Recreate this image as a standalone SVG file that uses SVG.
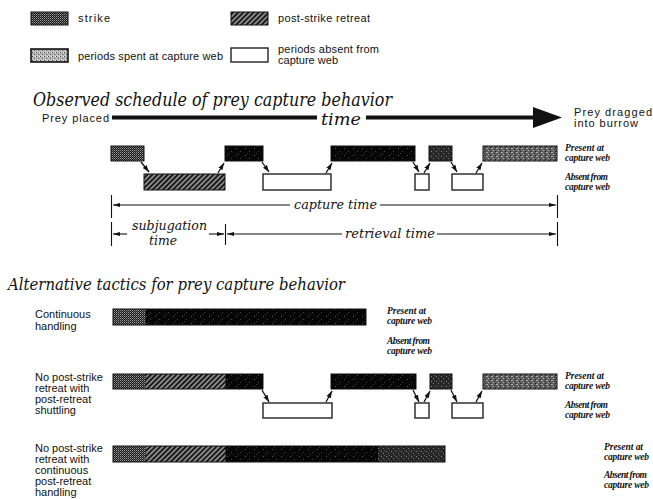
<svg xmlns="http://www.w3.org/2000/svg" width="653" height="499" viewBox="0 0 653 499">
<style>
.sans{font-family:"Liberation Sans",Arial,sans-serif;font-size:11px;fill:#111}
.ttl{font-family:"DejaVu Serif","Liberation Serif",serif;font-style:italic;fill:#111}
.lab{font-family:"Liberation Serif","Times New Roman",serif;font-style:italic;font-weight:bold;font-size:9.5px;fill:#111}
.dim{font-family:"DejaVu Serif","Liberation Serif",serif;font-style:italic;font-size:12.5px;fill:#111}
.bx{stroke:#111;stroke-width:1}
.wb{fill:#fff;stroke:#222;stroke-width:1.4}
.conn{stroke:#111;stroke-width:1.3;fill:none}
.dl{stroke:#111;stroke-width:1.1;fill:none}
</style>
<defs>
<pattern id="pStrike" width="2" height="2" patternUnits="userSpaceOnUse">
<rect width="2" height="2" fill="#1e1e1e"/><rect width="1" height="1" fill="#9a9a9a"/><rect x="1" y="1" width="1" height="1" fill="#5a5a5a"/>
</pattern>
<pattern id="pHatch" width="3.6" height="3.6" patternUnits="userSpaceOnUse" patternTransform="rotate(45)">
<rect width="3.6" height="3.6" fill="#8a8a8a"/><rect width="1.7" height="3.6" fill="#111"/>
</pattern>
<pattern id="pDark" width="9" height="7" patternUnits="userSpaceOnUse">
<rect width="9" height="7" fill="#060606"/><rect x="2" y="1" width="1" height="1" fill="#555"/><rect x="6" y="4" width="1" height="1" fill="#444"/><rect x="4" y="6" width="1" height="1" fill="#3a3a3a"/>
</pattern>
<pattern id="pMid" width="5" height="5" patternUnits="userSpaceOnUse">
<rect width="5" height="5" fill="#262626"/><rect x="1" y="1" width="1" height="1" fill="#888"/><rect x="3" y="3" width="1" height="1" fill="#777"/><rect x="4" y="0" width="1" height="1" fill="#555"/>
</pattern>
<pattern id="pLight" width="5" height="4" patternUnits="userSpaceOnUse">
<rect width="5" height="4" fill="#5e5e5e"/><rect x="1" y="0" width="2" height="1" fill="#aaa"/><rect x="3" y="2" width="1" height="1" fill="#bbb"/><rect x="0" y="3" width="1" height="1" fill="#222"/><rect x="4" y="1" width="1" height="1" fill="#333"/>
</pattern>
<pattern id="pLegWeb" width="4" height="4" patternUnits="userSpaceOnUse">
<rect width="4" height="4" fill="#b4b4b4"/><rect x="0" y="0" width="1" height="1" fill="#555"/><rect x="2" y="2" width="1" height="1" fill="#666"/><rect x="3" y="0" width="1" height="1" fill="#eee"/><rect x="1" y="3" width="1" height="1" fill="#eee"/>
</pattern>
<marker id="ah" markerUnits="userSpaceOnUse" markerWidth="8" markerHeight="6" refX="7" refY="3" orient="auto">
<path d="M0,0.6 L7,3 L0,5.4 z" fill="#111"/>
</marker>
<marker id="dh" markerUnits="userSpaceOnUse" markerWidth="8" markerHeight="5" refX="7" refY="2.5" orient="auto">
<path d="M0,0.5 L7,2.5 L0,4.5 z" fill="#111"/>
</marker>
</defs>

<g id="legend">
<g id="leg-strike"><rect class="bx" x="31" y="12" width="37" height="13" fill="url(#pStrike)"/><text class="sans" x="78" y="22" textLength="32">strike</text></g>
<g id="leg-retreat"><rect class="bx" x="231" y="12" width="37" height="13" fill="url(#pHatch)"/><text class="sans" x="278" y="22" textLength="92">post-strike retreat</text></g>
<g id="leg-web"><rect x="31" y="49" width="37" height="13" fill="url(#pLegWeb)" stroke="#111" stroke-width="1.6"/><text class="sans" x="78" y="60" textLength="145">periods spent at capture web</text></g>
<g id="leg-absent"><rect class="wb" x="231" y="48" width="37" height="14"/><text class="sans" x="278" y="53" textLength="101">periods absent from</text><text class="sans" x="278" y="64" textLength="60">capture web</text></g>
</g>

<g id="observed-title"><text class="ttl" x="33" y="106" font-size="19" textLength="359" lengthAdjust="spacingAndGlyphs">Observed schedule of prey capture behavior</text></g>

<g id="time-axis">
<text class="sans" x="42" y="122" font-size="12" textLength="67">Prey placed</text>
<rect x="112" y="115.5" width="205" height="4" fill="#111"/>
<text class="ttl" x="321" y="125" font-size="17" textLength="40" lengthAdjust="spacingAndGlyphs">time</text>
<rect x="366" y="115.5" width="169" height="4" fill="#111"/>
<polygon points="533,107 562,117.5 533,128" fill="#111"/>
<text class="sans" x="574" y="116" font-size="12" textLength="78">Prey dragged</text>
<text class="sans" x="574" y="127" font-size="12" textLength="64">into burrow</text>
</g>

<g id="observed-bars">
<rect class="bx" x="111" y="146" width="33" height="15" fill="url(#pStrike)"/>
<rect class="bx" x="144" y="174" width="81" height="16" fill="url(#pHatch)"/>
<rect class="bx" x="225" y="146" width="38" height="15" fill="url(#pDark)"/>
<rect class="wb" x="263" y="174" width="68" height="16"/>
<rect class="bx" x="331" y="146" width="84" height="15" fill="url(#pDark)"/>
<rect class="wb" x="415" y="174" width="14" height="16"/>
<rect class="bx" x="429" y="146" width="23" height="15" fill="url(#pMid)"/>
<rect class="wb" x="452" y="174" width="31" height="16"/>
<rect class="bx" x="483" y="146" width="74" height="15" fill="url(#pLight)"/>
<text class="lab" x="565" y="151" textLength="39">Present at</text>
<text class="lab" x="565" y="161" textLength="45">capture web</text>
<text class="lab" x="565" y="180" textLength="43">Absent from</text>
<text class="lab" x="565" y="190" textLength="45">capture web</text>
</g>

<g id="dimensions">
<path class="dl" d="M111.5,195 V218 M111.5,222 V246 M557.5,195 V218 M557.5,222 V246 M225.5,224 V245"/>
<path class="dl" d="M290,205 H113" marker-end="url(#dh)"/>
<path class="dl" d="M380,205 H556" marker-end="url(#dh)"/>
<text class="dim" x="294" y="209" textLength="83" lengthAdjust="spacingAndGlyphs">capture time</text>
<path class="dl" d="M127,234 H113" marker-end="url(#dh)"/>
<path class="dl" d="M209,234 H224" marker-end="url(#dh)"/>
<text class="dim" x="132" y="230" textLength="75" lengthAdjust="spacingAndGlyphs">subjugation</text>
<text class="dim" x="149" y="245" textLength="28" lengthAdjust="spacingAndGlyphs">time</text>
<path class="dl" d="M342,234 H227" marker-end="url(#dh)"/>
<path class="dl" d="M437,234 H556" marker-end="url(#dh)"/>
<text class="dim" x="345" y="238" textLength="90" lengthAdjust="spacingAndGlyphs">retrieval time</text>
</g>

<g id="alt-title"><text class="ttl" x="8" y="290" font-size="17" textLength="337" lengthAdjust="spacingAndGlyphs">Alternative tactics for prey capture behavior</text></g>

<g id="alt-continuous">
<text class="sans" x="35" y="318">Continuous</text>
<text class="sans" x="35" y="330">handling</text>
<rect class="bx" x="113" y="309" width="253" height="16" fill="url(#pDark)"/>
<rect x="113.5" y="309.5" width="32" height="15" fill="url(#pStrike)"/>
<text class="lab" x="387" y="314" textLength="39">Present at</text>
<text class="lab" x="387" y="324" textLength="45">capture web</text>
<text class="lab" x="387" y="344" textLength="43">Absent from</text>
<text class="lab" x="387" y="354" textLength="45">capture web</text>
</g>

<g id="alt-shuttling">
<text class="sans" x="35" y="381">No post-strike</text>
<text class="sans" x="35" y="392">retreat with</text>
<text class="sans" x="35" y="403">post-retreat</text>
<text class="sans" x="35" y="414">shuttling</text>
<rect class="bx" x="113" y="374" width="150" height="15" fill="url(#pDark)"/>
<rect x="113.5" y="374.5" width="32" height="14" fill="url(#pStrike)"/>
<rect x="145.5" y="374.5" width="80" height="14" fill="url(#pHatch)"/>
<rect class="wb" x="263" y="403" width="69" height="15"/>
<rect class="bx" x="331" y="374" width="85" height="15" fill="url(#pDark)"/>
<rect class="wb" x="415" y="403" width="14" height="15"/>
<rect class="bx" x="430" y="374" width="22" height="15" fill="url(#pMid)"/>
<rect class="wb" x="452" y="403" width="31" height="15"/>
<rect class="bx" x="483" y="374" width="74" height="15" fill="url(#pLight)"/>
<text class="lab" x="565" y="379" textLength="39">Present at</text>
<text class="lab" x="565" y="389" textLength="45">capture web</text>
<text class="lab" x="565" y="408" textLength="43">Absent from</text>
<text class="lab" x="565" y="418" textLength="45">capture web</text>
</g>

<g id="alt-continuous-post">
<text class="sans" x="35" y="452">No post-strike</text>
<text class="sans" x="35" y="463">retreat with</text>
<text class="sans" x="35" y="474">continuous</text>
<text class="sans" x="35" y="485">post-retreat</text>
<text class="sans" x="35" y="496">handling</text>
<rect class="bx" x="113" y="446" width="332" height="16" fill="url(#pDark)"/>
<rect x="113.5" y="446.5" width="32" height="15" fill="url(#pStrike)"/>
<rect x="145.5" y="446.5" width="80" height="15" fill="url(#pHatch)"/>
<rect x="378" y="446.5" width="66.5" height="15" fill="url(#pMid)"/>
<text class="lab" x="604" y="450" textLength="39">Present at</text>
<text class="lab" x="604" y="460" textLength="45">capture web</text>
<text class="lab" x="604" y="478" textLength="43">Absent from</text>
<text class="lab" x="604" y="488" textLength="45">capture web</text>
</g>

<g id="connectors">
<path class="conn" d="M141,162 L149,172" marker-end="url(#ah)"/>
<path class="conn" d="M218,173 L224,163" marker-end="url(#ah)"/>
<path class="conn" d="M262,162 L269,172" marker-end="url(#ah)"/>
<path class="conn" d="M326,173 L332,163" marker-end="url(#ah)"/>
<path class="conn" d="M413,162 L419,172" marker-end="url(#ah)"/>
<path class="conn" d="M424,173 L430,163" marker-end="url(#ah)"/>
<path class="conn" d="M451,162 L457,172" marker-end="url(#ah)"/>
<path class="conn" d="M476,173 L482,163" marker-end="url(#ah)"/>
<path class="conn" d="M262,390 L269,402" marker-end="url(#ah)"/>
<path class="conn" d="M326,402 L332,391" marker-end="url(#ah)"/>
<path class="conn" d="M413,390 L419,402" marker-end="url(#ah)"/>
<path class="conn" d="M424,402 L430,391" marker-end="url(#ah)"/>
<path class="conn" d="M451,390 L457,402" marker-end="url(#ah)"/>
<path class="conn" d="M476,402 L482,391" marker-end="url(#ah)"/>
</g>
</svg>
